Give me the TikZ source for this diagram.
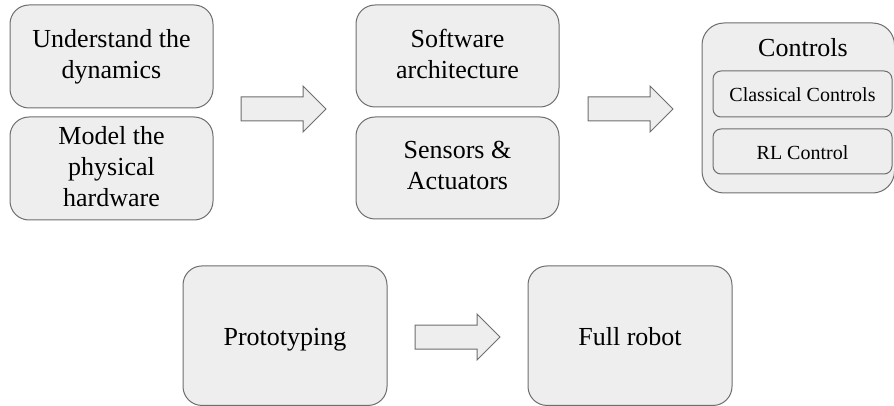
\documentclass[tikz,border=0pt]{standalone}
\usepackage{fontspec}
\setmainfont{LiberationSerif}[Extension=.ttf, UprightFont=*-Regular,
  BoldFont=*-Bold, ItalicFont=*-Italic, BoldItalicFont=*-BoldItalic]
\usetikzlibrary{calc}

\definecolor{boxfill}{HTML}{EEEEEE}
\definecolor{boxline}{HTML}{6E6E6E}

% struts that fix the first baseline and the last depth of every label
\newcommand\topstrut{\rule{0pt}{0.95em}}
\newcommand\botstrut{\rule[-0.18em]{0pt}{0.18em}}

\tikzset{
  stage/.style={draw=boxline, fill=boxfill, line width=1pt, rounded corners=19pt,
    align=center, inner sep=0pt, font=\fontsize{26}{31}\selectfont,
    execute at begin node=\topstrut, execute at end node=\botstrut},
  group/.style={draw=boxline, fill=boxfill, line width=1pt, rounded corners=22pt},
  substage/.style={draw=boxline, fill=boxfill, line width=1pt, rounded corners=8pt,
    align=center, inner sep=0pt, font=\fontsize{20}{24}\selectfont,
    execute at begin node=\topstrut, execute at end node=\botstrut},
  blockarrow/.style={draw=boxline, fill=boxfill, line width=1pt, line join=miter},
}

% block arrow from tail coordinate #1 to tip coordinate #2
\newcommand\fatarrow[2]{%
  \draw[blockarrow] ($(#1)+(0,-12)$) -- ($(#2)+(-23,-12)$) -- ($(#2)+(-23,-23)$)
    -- (#2) -- ($(#2)+(-23,23)$) -- ($(#2)+(-23,12)$) -- ($(#1)+(0,12)$) -- cycle;}

\begin{document}
\begin{tikzpicture}[x=1pt, y=-1pt]
  \useasboundingbox (0,0) rectangle (894,406);

  % first column
  \node[stage, minimum width=203pt, minimum height=103pt] (dyn) at (111.5,56.5)
    {Understand the\\dynamics};
  \node[stage, minimum width=203pt, minimum height=103pt] (model) at (111.5,168.5)
    {Model the\\physical\\hardware};

  % second column
  \node[stage, minimum width=203pt, minimum height=102pt] (soft) at (457.5,56)
    {Software\\architecture};
  \node[stage, minimum width=203pt, minimum height=102pt] (sens) at (457.5,168)
    {Sensors \&\\Actuators};

  % controls group
  \path[group] (702,23) rectangle (894.5,193);
  \node[font=\fontsize{26}{31}\selectfont, anchor=base, inner sep=0pt] (ctrl) at (803,57) {Controls};
  \node[substage, minimum width=179pt, minimum height=46pt] (classic) at (802.5,94)
    {Classical Controls};
  \node[substage, minimum width=179pt, minimum height=45pt] (rl) at (802.5,151.5)
    {RL Control};

  % bottom row
  \node[stage, minimum width=204pt, minimum height=139.5pt] (proto) at (285,335.7)
    {Prototyping};
  \node[stage, minimum width=204pt, minimum height=139.5pt] (full) at (630,335.7)
    {Full robot};

  % block arrows
  \coordinate (a1t) at (241,109);  \coordinate (a1h) at (326,109);
  \coordinate (a2t) at (588,109);  \coordinate (a2h) at (673,109);
  \coordinate (a3t) at (415,337);  \coordinate (a3h) at (500,337);
  \fatarrow{a1t}{a1h}
  \fatarrow{a2t}{a2h}
  \fatarrow{a3t}{a3h}
\end{tikzpicture}
\end{document}
